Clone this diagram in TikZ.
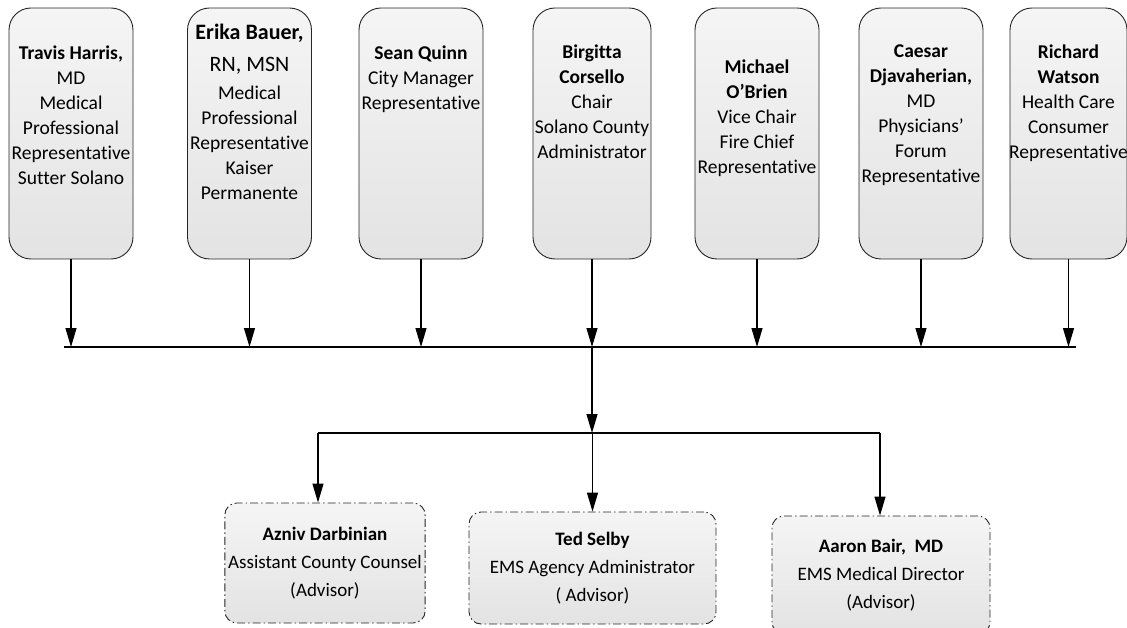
\documentclass[tikz,border=0pt]{standalone}
\usepackage{fontspec}
\setmainfont{Carlito}[Ligatures=NoCommon]
\usepackage{tikz}
\usetikzlibrary{positioning,arrows.meta}

\newcommand{\bigname}{\fontsize{22}{26}\selectfont\bfseries}

\begin{document}
\begin{tikzpicture}[x=1pt, y=-1pt,
    every node/.style={font=\fontsize{19.5}{25}\selectfont},
    member/.style={draw=black!85, line width=0.9pt, rounded corners=22pt,
        top color=black!4, bottom color=black!11,
        minimum width=124pt, minimum height=251pt},
    memberlabel/.style={align=center, inner sep=0pt},
    advisor/.style={draw=black!85, line width=0.9pt, rounded corners=12pt,
        dash pattern=on 8pt off 3pt on 1.5pt off 3pt,
        top color=black!4, bottom color=black!11, align=center,
        font=\fontsize{19}{28}\selectfont},
    feed/.style={line width=1.2pt, -{Triangle[length=19pt,width=11pt]}},
    bus/.style={line width=2.4pt}]
    \useasboundingbox (0,0) rectangle (1127,628);

    % Board members
    \node[member] (harris) at (71,133.5) {};
    \node[member] (bauer) at (249.5,133.5) {};
    \node[member] (quinn) at (421,133.5) {};
    \node[member, minimum width=118pt] (corsello) at (592,133.5) {};
    \node[member] (obrien) at (757,133.5) {};
    \node[member] (djavaherian) at (921,133.5) {};
    \node[member, minimum width=117pt] (watson) at (1068.5,133.5) {};

    % Their titles
    \node[memberlabel, below=37.6pt of harris.north] (harris-txt)
        {\textbf{Travis Harris,}\\MD\\Medical\\Professional\\Representative\\Sutter Solano};
    \node[memberlabel, below=16.7pt of bauer.north] (bauer-txt)
        {{\bigname Erika Bauer,}\\[7pt]{\fontsize{22}{26}\selectfont RN, MSN}\\[3pt]Medical\\Professional\\Representative\\Kaiser\\Permanente};
    \node[memberlabel, below=37.6pt of quinn.north] (quinn-txt)
        {\textbf{Sean Quinn}\\City Manager\\Representative};
    \node[memberlabel, below=36.6pt of corsello.north] (corsello-txt)
        {\textbf{Birgitta}\\\textbf{Corsello}\\Chair\\Solano County\\Administrator};
    \node[memberlabel, below=51.6pt of obrien.north] (obrien-txt)
        {\textbf{Michael}\\\textbf{O’Brien}\\Vice Chair\\Fire Chief\\Representative};
    \node[memberlabel, below=36.6pt of djavaherian.north] (djavaherian-txt)
        {\textbf{Caesar}\\\textbf{Djavaherian,}\\MD\\Physicians’\\Forum\\Representative};
    \node[memberlabel, below=36.6pt of watson.north] (watson-txt)
        {\textbf{Richard}\\\textbf{Watson}\\Health Care\\Consumer\\Representative};

    % Advisors
    \node[advisor, minimum width=188pt, minimum height=120pt] (darbinian) at (325,563)
        {\textbf{Azniv Darbinian}\\Assistant County Counsel\\(Advisor)};
    \node[advisor, minimum width=247pt, minimum height=112pt] (selby) at (592.5,568)
        {\textbf{Ted Selby}\\EMS Agency Administrator\\( Advisor)};
    \node[advisor, minimum width=218pt, minimum height=118pt] (bair) at (881,575)
        {\textbf{Aaron Bair,~~MD}\\EMS Medical Director\\(Advisor)};

    % Bus lines
    \coordinate (busL) at (64,347);
    \coordinate (busR) at (1076,347);
    \coordinate (splitL) at (318,433);
    \coordinate (splitR) at (880,433);
    \foreach \m in {harris,bauer,quinn,corsello,obrien,djavaherian,watson}
        \draw[feed] (\m.south) -- (\m.south |- busL);
    \draw[bus] (busL) -- (busR);
    \draw[feed] (corsello.south |- busL) -- (corsello.south |- splitL);
    \draw[bus] (splitL) -- (splitR);

    % Down to the advisors
    \draw[feed] (splitL) -- (splitL |- darbinian.north);
    \draw[feed] (selby.north |- splitL) -- (selby.north);
    \draw[feed] (splitR) -- (splitR |- bair.north);
\end{tikzpicture}
\end{document}
